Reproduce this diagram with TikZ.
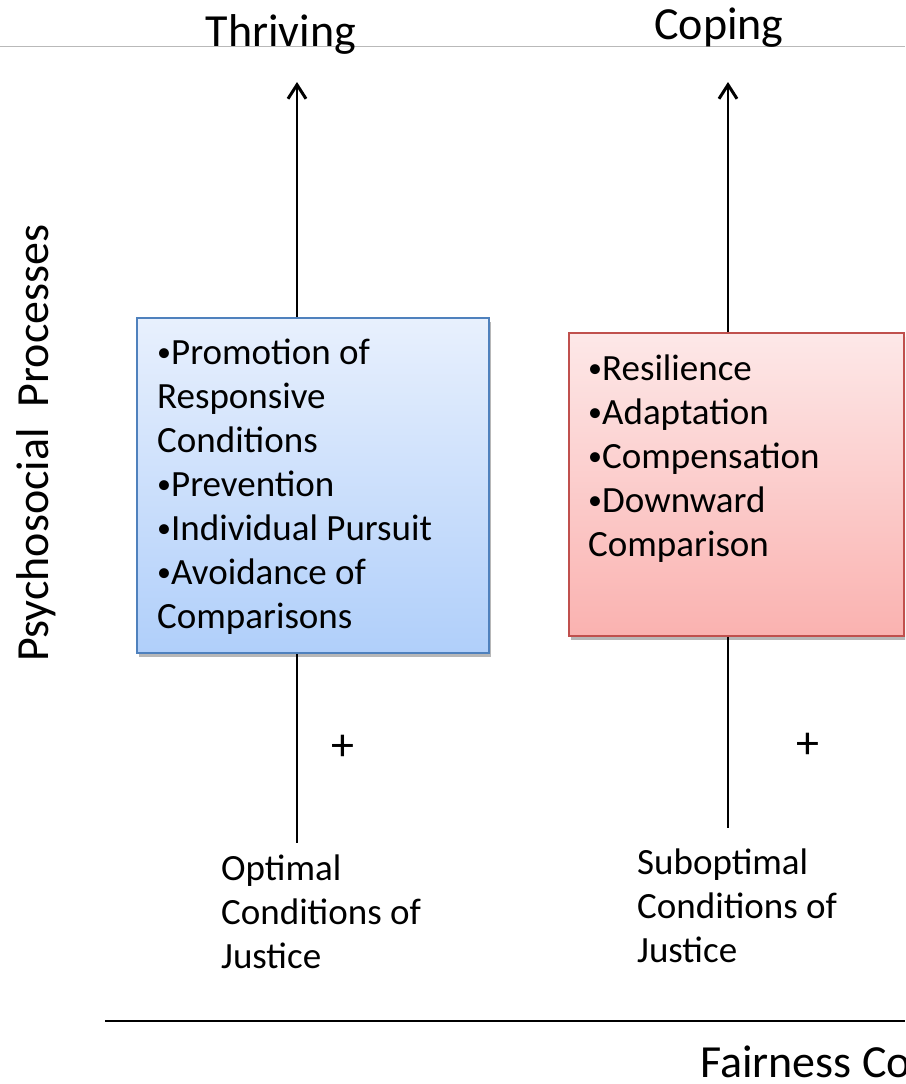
\documentclass[tikz,border=0pt]{standalone}
\usepackage{fontspec}
\setmainfont{Carlito}
\usetikzlibrary{arrows.meta,shadows}
\definecolor{bluefillT}{RGB}{232,240,253}
\definecolor{bluefillB}{RGB}{176,207,250}
\definecolor{blueline}{RGB}{79,129,189}
\definecolor{redfillT}{RGB}{253,232,232}
\definecolor{redfillB}{RGB}{250,178,176}
\definecolor{redline}{RGB}{192,80,77}
\definecolor{rulegray}{RGB}{185,185,185}
\newcommand\smallbul{{\fontsize{28}{28}\selectfont\raisebox{2.5pt}{•}}}
\begin{document}
\begin{tikzpicture}[x=1pt,y=-1pt,
  body/.style={font=\fontsize{37}{44}\selectfont, inner sep=0pt, align=left},
  title/.style={font=\fontsize{46}{55}\selectfont, inner sep=0pt},
  plus/.style={font=\fontsize{46}{46}\selectfont, inner sep=0pt},
  link/.style={line width=2.4pt, draw=black},
  up/.style={link, -{Straight Barb[length=14pt,width=18pt,line width=3pt]}},
  pbox/.style={draw, line width=1.6pt, inner sep=0pt,
    drop shadow={shadow xshift=2pt, shadow yshift=-4pt, opacity=0.4, fill=black!70}}
]
\path[use as bounding box, clip] (0,0) rectangle (905,1084);

% top grey rule and titles
\coordinate (ruleL) at (0,46);
\coordinate (ruleR) at (905,46);
\draw[rulegray, line width=1pt] (ruleL) -- (ruleR);
\node[title, anchor=base] (thr) at (281,46) {Thriving};
\node[title, anchor=base] (cop) at (719,39) {Coping};

% vertical axis label
\node[title, rotate=90, anchor=base] (ylab) at (48,443) {Psychosocial~~Processes};

% boxes
\node[pbox, draw=blueline, top color=bluefillT, bottom color=bluefillB,
  minimum width=352pt, minimum height=335pt] (lbox) at (313,485.5) {};
\node[pbox, draw=redline, top color=redfillT, bottom color=redfillB,
  minimum width=335pt, minimum height=303pt] (rbox) at (736.5,484.5) {};

\node[body, anchor=base west] (ltext) at (157,628)
  {\smallbul Promotion of\\Responsive\\Conditions\\\smallbul Prevention\\\smallbul Individual Pursuit\\\smallbul Avoidance of\\Comparisons};
\node[body, anchor=base west] (rtext) at (588,556)
  {\smallbul Resilience\\\smallbul Adaptation\\\smallbul Compensation\\\smallbul Downward\\Comparison};

% arrows upward
\coordinate (ltip) at (297,82);
\coordinate (rtip) at (728,82);
\draw[up] (lbox.north -| ltip) -- (ltip);
\draw[up] (rbox.north -| rtip) -- (rtip);

% lower links
\coordinate (lbot) at (297,843);
\coordinate (rbot) at (728,828);
\draw[link] (lbox.south -| lbot) -- (lbot);
\draw[link] (rbox.south -| rbot) -- (rbot);
\node[plus] (lplus) at (343,748) {+};
\node[plus] (rplus) at (808,746) {+};

% condition labels
\node[body, anchor=base west] (lcond) at (221,968) {Optimal\\Conditions of\\Justice};
\node[body, anchor=base west] (rcond) at (637,962) {Suboptimal\\Conditions of\\Justice};

% bottom axis
\coordinate (axL) at (105,1021);
\coordinate (axR) at (905,1021);
\draw[line width=2.2pt] (axL) -- (axR);
\node[title, anchor=base west] (xlab) at (700,1077) {Fairness Co};
\end{tikzpicture}
\end{document}
